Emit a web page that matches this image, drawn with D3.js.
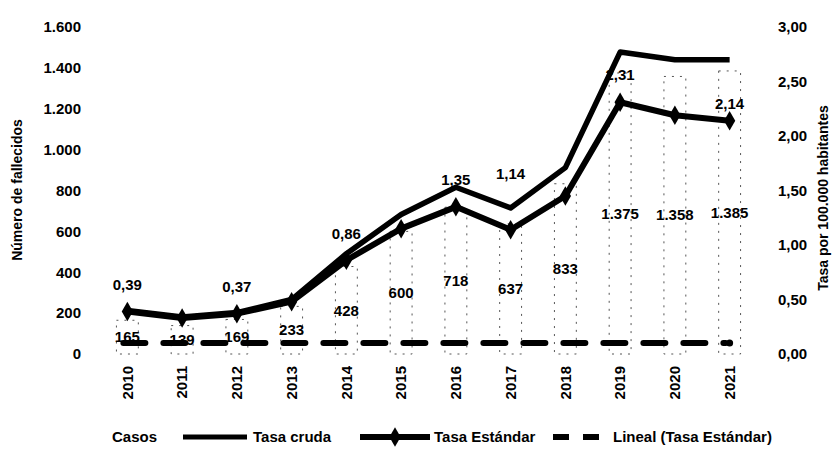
<!DOCTYPE html>
<html>
<head>
<meta charset="utf-8">
<script src="https://cdn.jsdelivr.net/npm/d3@7"></script>
<style>
  body { margin: 0; background: #fff; }
  svg text { font-family: "Liberation Sans", Arial, sans-serif; font-weight: bold; fill: #000; }
</style>
</head>
<body>
<div id="chart"></div>
<script>
// data
const years = ["2010","2011","2012","2013","2014","2015","2016","2017","2018","2019","2020","2021"];
const casos = [165, 139, 169, 233, 428, 600, 718, 637, 833, 1375, 1358, 1385];
const tasaCruda = [0.40, 0.34, 0.38, 0.50, 0.92, 1.28, 1.53, 1.34, 1.71, 2.77, 2.70, 2.70];
const tasaEstandar = [0.39, 0.33, 0.37, 0.48, 0.86, 1.15, 1.35, 1.14, 1.45, 2.31, 2.19, 2.14];
const tendencia = [0.10, 0.10, 0.10, 0.10, 0.10, 0.10, 0.10, 0.10, 0.10, 0.10, 0.10, 0.10];
const leftTicks = [0, 200, 400, 600, 800, 1000, 1200, 1400, 1600];
const rightTicks = [0, 0.5, 1.0, 1.5, 2.0, 2.5, 3.0];
const labelledYears = ["2010","2012","2014","2016","2017","2019","2021"];

const width = 836, height = 451;
const plot = { left: 100, right: 757, top: 27, bottom: 354 };

const es = d3.formatLocale({ decimal: ",", thousands: ".", grouping: [3], currency: ["", "€"] });
const fmtInt = es.format(",d");
const fmtDec = es.format(".2f");

const svg = d3.select("#chart").append("svg")
  .attr("width", width)
  .attr("height", height);

const x = d3.scaleBand().domain(years).range([plot.left, plot.right]);
const yL = d3.scaleLinear().domain([0, 1600]).range([plot.bottom, plot.top]);
const yR = d3.scaleLinear().domain([0, 3]).range([plot.bottom, plot.top]);
const cx = d => x(d) + x.bandwidth() / 2;

// axes (no lines, labels only)
const leftAxis = svg.append("g")
  .attr("transform", `translate(${plot.left - 16},0)`)
  .call(d3.axisLeft(yL).tickValues(leftTicks).tickFormat(fmtInt).tickSize(0));
const rightAxis = svg.append("g")
  .attr("transform", `translate(${plot.right + 18},0)`)
  .call(d3.axisRight(yR).tickValues(rightTicks).tickFormat(fmtDec).tickSize(0));
const bottomAxis = svg.append("g")
  .attr("transform", `translate(0,${plot.bottom + 8})`)
  .call(d3.axisBottom(x).tickSize(0));
[leftAxis, rightAxis, bottomAxis].forEach(g => {
  g.select(".domain").remove();
  g.selectAll("text").style("font-size", "15px").attr("font-family", null);
});
bottomAxis.selectAll("text")
  .attr("transform", "rotate(-90)")
  .attr("text-anchor", "end")
  .attr("x", -4)
  .attr("y", 0)
  .attr("dy", "0.35em");

// axis titles
svg.append("text")
  .attr("transform", `translate(22,190) rotate(-90)`)
  .attr("text-anchor", "middle")
  .style("font-size", "14px")
  .text("Número de fallecidos");
svg.append("text")
  .attr("transform", `translate(828,198) rotate(-90)`)
  .attr("text-anchor", "middle")
  .style("font-size", "14px")
  .text("Tasa por 100.000 habitantes");

// bars: faint dotted outlines
const barW = x.bandwidth() * 0.4;
svg.selectAll("rect.bar")
  .data(casos)
  .enter().append("rect")
  .attr("class", "bar")
  .attr("x", (d, i) => cx(years[i]) - barW / 2)
  .attr("y", d => yL(d))
  .attr("width", barW)
  .attr("height", d => yL(0) - yL(d))
  .attr("fill", "none")
  .attr("stroke", "#555")
  .attr("stroke-width", 1)
  .attr("stroke-dasharray", "2,6");

// trend line
svg.append("path")
  .datum(tendencia)
  .attr("fill", "none")
  .attr("stroke", "#000")
  .attr("stroke-width", 6)
  .attr("stroke-linecap", "round")
  .attr("stroke-dasharray", "22,18")
  .attr("d", d3.line().x((d, i) => cx(years[i]) - 4).y(d => yR(d)));
svg.append("circle")
  .attr("cx", cx(years[years.length - 1]))
  .attr("cy", yR(tendencia[tendencia.length - 1]))
  .attr("r", 3.5);

// tasa cruda
const line = d3.line().x((d, i) => cx(years[i])).y(d => yR(d));
svg.append("path")
  .datum(tasaCruda)
  .attr("fill", "none")
  .attr("stroke", "#000")
  .attr("stroke-width", 5.5)
  .attr("stroke-linejoin", "round")
  .attr("d", line);

// tasa estandar
svg.append("path")
  .datum(tasaEstandar)
  .attr("fill", "none")
  .attr("stroke", "#000")
  .attr("stroke-width", 6)
  .attr("stroke-linejoin", "round")
  .attr("d", line);
const diamond = d3.symbol().type(d3.symbolDiamond).size(110);
svg.selectAll("path.mk")
  .data(tasaEstandar)
  .enter().append("path")
  .attr("class", "mk")
  .attr("d", diamond)
  .attr("transform", (d, i) => `translate(${cx(years[i])},${yR(d)})`);

// labels for casos, centred in the bars
svg.selectAll("text.casos")
  .data(casos)
  .enter().append("text")
  .attr("class", "casos")
  .attr("x", (d, i) => cx(years[i]))
  .attr("y", d => (yL(d) + yL(0)) / 2)
  .attr("dy", "0.35em")
  .attr("text-anchor", "middle")
  .style("font-size", "15px")
  .text(d => fmtInt(d));

// labels for tasa estandar
const labelDy = { "2017": -56, "2021": -17 };
svg.selectAll("text.est")
  .data(years.map((y, i) => ({ y, v: tasaEstandar[i] })).filter(d => labelledYears.includes(d.y)))
  .enter().append("text")
  .attr("class", "est")
  .attr("x", d => cx(d.y))
  .attr("y", d => yR(d.v) + (labelDy[d.y] || -27))
  .attr("dy", "0.35em")
  .attr("text-anchor", "middle")
  .style("font-size", "15px")
  .text(d => fmtDec(d.v));

// legend
const lg = svg.append("g").attr("transform", "translate(0,437)");
lg.append("text").attr("x", 112).attr("dy", "0.35em").style("font-size", "15px").text("Casos");
lg.append("line").attr("x1", 183).attr("x2", 247).attr("stroke", "#000").attr("stroke-width", 5);
lg.append("text").attr("x", 253).attr("dy", "0.35em").style("font-size", "15px").text("Tasa cruda");
lg.append("line").attr("x1", 360).attr("x2", 430).attr("stroke", "#000").attr("stroke-width", 6);
lg.append("path").attr("d", diamond).attr("transform", "translate(395,0)");
lg.append("text").attr("x", 434).attr("dy", "0.35em").style("font-size", "15px").text("Tasa Estándar");
lg.append("line").attr("x1", 553).attr("x2", 600).attr("stroke", "#000").attr("stroke-width", 6)
  .attr("stroke-dasharray", "16,14");
lg.append("text").attr("x", 613).attr("dy", "0.35em").style("font-size", "15px").text("Lineal (Tasa Estándar)");
</script>
</body>
</html>
